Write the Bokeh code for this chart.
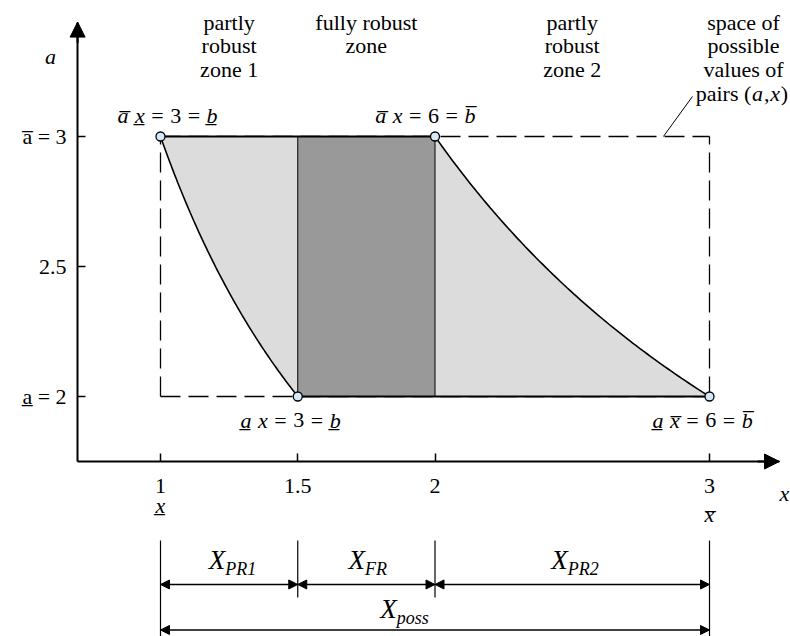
import numpy as np
from bokeh.plotting import figure
from bokeh.models import ColumnDataSource, LinearAxis, FixedTicker, Arrow, NormalHead, Range1d
from bokeh.core.properties import value
from bokeh.embed import file_html
from bokeh.resources import INLINE

OV = "\u0305"   # combining overline  (upper bound)
UL = "\u0332"   # combining low line  (lower bound)
NBSP = "\u00a0"
FONT = "Liberation Serif"

# interval bounds of the uncertain quantities
x_lo, x_hi = 1.0, 3.0
a_lo, a_hi = 2.0, 3.0
b_lo, b_hi = 3.0, 6.0

x_ticks = [1, 1.5, 2, 3]
x_tick_labels = ["1", "1.5", "2", "3"]
a_ticks = [2, 2.5, 3]
a_tick_labels = ["a" + UL + " = 2", "2.5", "a" + OV + " = 3"]

zone_titles = ["partly\nrobust\nzone 1", "fully robust\nzone", "partly\nrobust\nzone 2",
               "space of\npossible\nvalues of"]
interval_subs = ["PR1", "FR", "PR2"]

# zone limits follow from a*x = b at the corners
x_fr_lo = b_lo / a_lo      # 1.5
x_fr_hi = b_hi / a_hi      # 2.0

# hyperbolas a = b / x bounding the robust zones
xs1 = np.linspace(b_lo / a_hi, b_lo / a_lo, 80)
as1 = b_lo / xs1
xs2 = np.linspace(b_hi / a_hi, b_hi / a_lo, 80)
as2 = b_hi / xs2

# where the drawn axes cross, and rows for the interval dimensions
axis_x0, axis_a0 = 0.698, 1.75
x_axis_end, a_axis_end = 3.255, 3.44
dim_row, poss_row = 1.277, 1.102
ext_top, ext_mid, ext_bot = 1.446, 1.227, 1.0

p = figure(width=790, height=636, x_range=Range1d(0.41712, 3.29508),
           y_range=Range1d(1.07692, 3.52308), output_backend="svg",
           toolbar_location=None, min_border=0, x_axis_type=None, y_axis_type=None)
p.grid.visible = False
p.outline_line_color = None
p.background_fill_color = "white"

# axes crossing at the lower-left corner, ticks pointing inward
xaxis = LinearAxis(fixed_location=axis_a0, bounds=(axis_x0, x_axis_end),
                   ticker=FixedTicker(ticks=x_ticks),
                   major_label_overrides={t: l for t, l in zip(x_ticks, x_tick_labels)})
yaxis = LinearAxis(fixed_location=axis_x0, bounds=(axis_a0, a_axis_end),
                   ticker=FixedTicker(ticks=a_ticks),
                   major_label_overrides={t: l for t, l in zip(a_ticks, a_tick_labels)})
for ax in (xaxis, yaxis):
    ax.axis_line_width = 2
    ax.axis_line_color = "black"
    ax.major_tick_in = 8
    ax.major_tick_out = 0
    ax.major_tick_line_width = 1.5
    ax.minor_tick_line_color = None
    ax.major_label_text_font = FONT
    ax.major_label_text_font_size = "22px"
    ax.major_label_text_color = "black"
xaxis.major_label_standoff = 18
yaxis.major_label_standoff = 11
p.add_layout(xaxis, "below")
p.add_layout(yaxis, "left")

p.add_layout(Arrow(end=NormalHead(size=15, fill_color="black", line_color="black"),
                   x_start=axis_x0, y_start=a_axis_end - 0.08, x_end=axis_x0, y_end=a_axis_end,
                   line_width=2))
p.add_layout(Arrow(end=NormalHead(size=15, fill_color="black", line_color="black"),
                   x_start=x_axis_end - 0.08, y_start=axis_a0, x_end=x_axis_end, y_end=axis_a0,
                   line_width=2))

# dashed box of all possible (a, x)
p.multi_line([[x_lo, x_lo], [x_lo, x_hi], [x_hi, x_hi], [x_lo, x_hi]],
             [[a_lo, a_hi], [a_lo, a_lo], [a_lo, a_hi], [a_hi, a_hi]],
             line_color="black", line_width=1.3, line_dash="20 8")

# shaded zones
p.patch(list(xs1) + [x_fr_lo], list(as1) + [a_hi], fill_color="#dcdcdc", line_color=None)
p.patch(list(xs2) + [x_fr_hi], list(as2) + [a_lo], fill_color="#dcdcdc", line_color=None)
p.quad(left=[x_fr_lo], right=[x_fr_hi], bottom=[a_lo], top=[a_hi],
       fill_color="#999999", line_color=None)

# zone borders
p.line(xs1, as1, line_color="black", line_width=1.6)
p.line(xs2, as2, line_color="black", line_width=1.6)
p.line([x_lo, x_fr_hi], [a_hi, a_hi], line_color="black", line_width=2.2)
p.line([x_fr_lo, x_hi], [a_lo, a_lo], line_color="black", line_width=2.2)
p.multi_line([[x_fr_lo, x_fr_lo], [x_fr_hi, x_fr_hi]], [[a_lo, a_hi], [a_lo, a_hi]],
             line_color="black", line_width=1)

# leader to the box caption
p.line([2.832, 2.938], [a_hi, 3.154], line_color="black", line_width=1)

# corner points
p.scatter([x_lo, x_fr_hi, x_fr_lo, x_hi], [a_hi, a_hi, a_lo, a_lo], size=9,
          fill_color="#d4ebf7", line_color="black", line_width=1.3)

# interval dimension lines
p.multi_line([[x_lo, x_lo], [x_fr_lo, x_fr_lo], [x_fr_hi, x_fr_hi], [x_hi, x_hi]],
             [[ext_top, ext_bot], [ext_top, ext_mid], [ext_top, ext_mid], [ext_top, ext_bot]],
             line_color="black", line_width=1.2)
for xa, xb, yy in [(x_lo, x_fr_lo, dim_row), (x_fr_lo, x_fr_hi, dim_row),
                   (x_fr_hi, x_hi, dim_row), (x_lo, x_hi, poss_row)]:
    p.add_layout(Arrow(start=NormalHead(size=9, fill_color="black", line_color="black"),
                       end=NormalHead(size=9, fill_color="black", line_color="black"),
                       x_start=xa, y_start=yy, x_end=xb, y_end=yy, line_width=1.3))

# zone captions
p.text(x=[1.25, 1.75, 2.5, 3.124], y=[3.488] * 4, text=zone_titles,
       text_align="center", text_baseline="top", text_font=value(FONT),
       text_font_size="22px", text_color="black", text_line_height=0.95)

# mixed upright / italic labels built token by token
ADV_R = {"=": 564, "(": 333, ")": 333, ",": 250, ".": 250, "p": 500, "a": 444,
         "i": 278, "r": 333, "s": 389, NBSP: 250}
ADV_I = {"a": 500, "x": 444, "b": 500, "X": 611, "P": 611, "R": 611, "F": 611,
         "o": 500, "s": 389, "p": 500}
rows = dict(x=[], y=[], text=[], dx=[], dy=[], style=[], size=[])


def advance(s, italic, size):
    table = ADV_I if italic else ADV_R
    return sum(0 if ch in (OV, UL) else table.get(ch, 500) for ch in s) * size / 1000.0


def put(xc, yc, tokens, gap=0.0):
    # tokens: (text, italic, size, dy); gap is the pixel space between tokens
    widths = [advance(t, it, sz) for t, it, sz, _ in tokens]
    cur = -(sum(widths) + gap * (len(tokens) - 1)) / 2.0
    for (t, it, sz, dy), w in zip(tokens, widths):
        rows["x"].append(xc)
        rows["y"].append(yc)
        rows["text"].append(t)
        rows["dx"].append(cur)
        rows["dy"].append(dy)
        rows["style"].append("italic" if it else "normal")
        rows["size"].append(f"{sz}px")
        cur += w + gap


S = 22
put(1.0255, 3.08, [("a" + OV, 1, S, 0), ("x" + UL, 1, S, 0), ("=", 0, S, 0), ("3", 0, S, 0),
                   ("=", 0, S, 0), ("b" + UL, 1, S, 0)], gap=6.5)
put(1.965, 3.08, [("a" + OV, 1, S, 0), ("x", 1, S, 0), ("=", 0, S, 0), ("6", 0, S, 0),
                  ("=", 0, S, 0), ("b" + OV, 1, S, 0)], gap=6.5)
put(1.474, 1.908, [("a" + UL, 1, S, 0), ("x", 1, S, 0), ("=", 0, S, 0), ("3", 0, S, 0),
                   ("=", 0, S, 0), ("b" + UL, 1, S, 0)], gap=6.5)
put(2.975, 1.908, [("a" + UL, 1, S, 0), ("x" + OV, 1, S, 0), ("=", 0, S, 0), ("6", 0, S, 0),
                   ("=", 0, S, 0), ("b" + OV, 1, S, 0)], gap=6.5)
put(3.118, 3.165, [("pairs" + NBSP + "(", 0, S, 0), ("a", 1, S, 0), (",", 0, S, 0),
                   ("x", 1, S, 0), (")", 0, S, 0)], gap=0.8)
put(0.599, 3.308, [("a", 1, S, 0)])
put(3.273, 1.627, [("x", 1, S, 0)])
put(x_lo, 1.58, [("x" + UL, 1, S, 0)])
put(x_hi, 1.545, [("x" + OV, 1, S, 0)])
for xc, sub in zip([1.262, 1.755, 2.51], interval_subs):
    put(xc, 1.373, [("X", 1, 27, 0), (sub, 1, 18, 9)])
put(1.889, 1.181, [("X", 1, 27, 0), ("poss", 1, 18, 9)])

p.text(x="x", y="y", text="text", x_offset="dx", y_offset="dy",
       text_font_style="style", text_font_size="size", text_align="left",
       text_baseline="middle", text_font=value(FONT), text_color="black",
       source=ColumnDataSource(rows))

open("out.html", "w").write(file_html(p, INLINE))
